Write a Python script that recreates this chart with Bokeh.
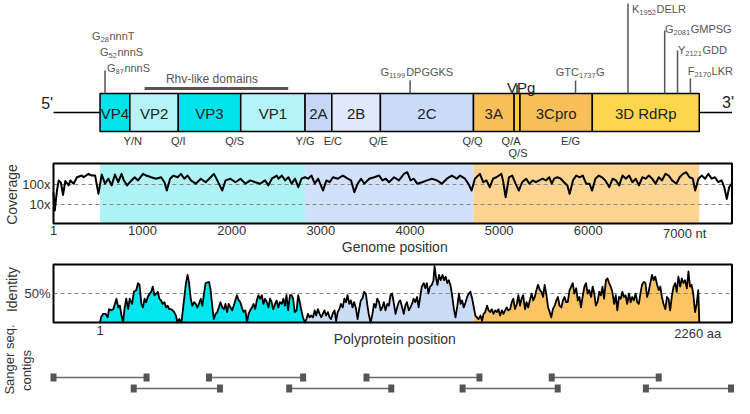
import math
from bokeh.plotting import figure
from bokeh.models import Range1d, LogScale
from bokeh.core.properties import value
from bokeh.embed import file_html
from bokeh.resources import INLINE

FONT = "Liberation Sans"

# ---------------- genome map (nt) ----------------
GENE_LABELS = ["VP4", "VP2", "VP3", "VP1", "2A", "2B", "2C", "3A", "", "3Cpro", "3D RdRp"]
GENE_START = [523, 857, 1401, 2101, 2823, 3123, 3668, 4712, 5168, 5234, 6045]
GENE_END = [857, 1401, 2101, 2823, 3123, 3668, 4712, 5168, 5234, 6045, 7245]
GENE_COLORS = ["#00e3ec", "#b2f4f8", "#00e3ec", "#b2f4f8", "#c5d6f7", "#e0e9fb",
               "#c9dbf8", "#fbbf5a", "#fbc93c", "#fbbf5a", "#fdd54f"]
GENOME_END = 7612

CLEAVE_LABELS = ["Y/N", "Q/I", "Q/S", "Y/G", "E/C", "Q/E", "Q/Q", "Q/A", "Q/S", "E/G"]
CLEAVE_NT = [890, 1401, 2034, 2823, 3134, 3646, 4701, 5134, 5212, 5801]
CLEAVE_ROW = [0, 0, 0, 0, 0, 0, 0, 0, 1, 0]

MOTIF_PRE = ["G", "G", "G", "G", "GTC", "K", "G", "Y", "F"]
MOTIF_SUB = ["28", "52", "87", "1199", "1737", "1952", "2081", "2121", "2170"]
MOTIF_POST = ["nnnT", "nnnS", "nnnS", "DPGGKS", "G", "DELR", "GMPSG", "GDD", "LKR"]
MOTIF_LABEL_NT = [434, 523, 601, 3668, 5634, 6490, 6860, 7005, 7115]
MOTIF_LABEL_Y = [35, 51, 67, 71, 71, 8, 28, 49, 70]
MOTIF_LINE_NT = [579, 4001, 5857, 6445, 6857, 7001, 7145]
MOTIF_LINE_TOP = [70, 80, 80, 3, 30, 50, 78]

RHV_NT = [1023, 2634]

# ---------------- coverage (reads, by nt) ----------------
COV_NT_A = [1, 15, 40, 60, 85, 108, 134, 171, 190, 227,
            264, 320, 338, 394, 431, 468, 505, 542, 579, 616,
            653, 690, 727, 764, 790, 827, 857, 912, 949, 1005,
            1042, 1097, 1153, 1208, 1246, 1272, 1309, 1346, 1394, 1431,
            1468, 1505, 1542, 1597, 1653, 1708, 1764, 1801, 1838, 1894,
            1931, 1986, 2042, 2098, 2153, 2209, 2264, 2320, 2375, 2412,
            2450, 2505]
COV_VAL_A = [40, 5, 50, 160, 120, 30, 150, 90, 160, 110,
             230, 280, 230, 340, 280, 280, 34, 315, 110, 195,
             90, 315, 130, 340, 160, 90, 130, 230, 160, 340,
             280, 230, 195, 230, 130, 50, 195, 280, 230, 340,
             195, 280, 160, 110, 195, 130, 230, 340, 160, 50,
             160, 195, 130, 195, 110, 160, 130, 110, 160, 90,
             195, 280]
COV_NT_B = [2525, 2562, 2599, 2636, 2673, 2710, 2747, 2784, 2821, 2858,
            2895, 2932, 2969, 3025, 3062, 3099, 3136, 3191, 3247, 3302,
            3339, 3376, 3413, 3451, 3488, 3543, 3599, 3654, 3691, 3728,
            3765, 3821, 3876, 3932, 3969, 4006, 4043, 4080, 4136, 4191,
            4247, 4302, 4358, 4414, 4469, 4525, 4562, 4617, 4654, 4691,
            4728, 4784, 4821, 4858, 4895, 4932, 4969, 5025]
COV_VAL_B = [195, 280, 160, 230, 110, 195, 73, 195, 230, 195,
             280, 110, 195, 50, 160, 130, 230, 195, 280, 195,
             160, 41, 110, 195, 110, 195, 230, 280, 160, 195,
             130, 230, 160, 340, 410, 160, 195, 110, 130, 160,
             195, 160, 110, 195, 280, 195, 280, 195, 110, 50,
             195, 340, 130, 160, 73, 195, 230, 340]
COV_NT_C = [5043, 5073, 5110, 5147, 5184, 5221, 5258, 5302, 5339, 5376,
            5413, 5450, 5488, 5525, 5562, 5591, 5617, 5654, 5691, 5728,
            5765, 5791, 5828, 5865, 5902, 5939, 5976, 6013, 6043, 6080,
            6117, 6154, 6191, 6236, 6273, 6310, 6347, 6384, 6421, 6458,
            6495, 6532, 6569, 6606, 6643, 6680, 6717, 6754, 6791, 6828,
            6865, 6902, 6940, 6988, 7025, 7062, 7099, 7136, 7173, 7199,
            7236, 7273, 7310, 7347, 7384, 7421, 7458, 7495, 7525, 7554,
            7580, 7606]
COV_VAL_C = [160, 23, 230, 280, 110, 50, 130, 195, 110, 160,
             130, 160, 195, 160, 230, 110, 195, 230, 195, 130,
             90, 34, 160, 280, 230, 280, 110, 110, 50, 195,
             280, 230, 160, 73, 195, 160, 90, 280, 195, 280,
             130, 195, 90, 230, 195, 280, 195, 110, 230, 160,
             340, 280, 160, 110, 230, 340, 410, 230, 195, 50,
             195, 280, 195, 340, 195, 230, 130, 160, 73, 19,
             73, 110]
COV_YLIM = [1.12, 1122]
COV_TICKS = [100, 10]
COV_TICK_LABELS = ["100x", "10x"]
NT_TICKS = [1, 1000, 2000, 3000, 4000, 5000, 6000]
NT_TICK_LABELS = ["1", "1000", "2000", "3000", "4000", "5000", "6000"]
BAND_START = [523, 2823, 4712]
BAND_END = [2823, 4712, 7245]
BAND_COLORS = ["#aef4f7", "#d2e1fb", "#fdd590"]

# ---------------- identity (%, by aa) ----------------
IDN_AA_P1 = [1, 5, 13, 22, 30, 35, 42, 51, 57, 63,
             70, 76, 82, 88, 94, 100, 107, 113, 122, 129,
             138, 144, 150, 157, 163, 169, 175, 181, 188, 194,
             200, 206, 213, 219, 225, 231, 237, 244, 250, 256,
             262, 269, 275, 281, 287, 293, 300, 308, 316, 325,
             331, 337, 343, 349, 356, 362, 368, 374, 381, 387,
             393, 399, 405, 412, 418, 424, 430, 437, 443, 449,
             455, 462, 468, 474, 480, 486, 493, 499, 505, 511,
             517, 524, 530, 536, 542, 549, 555, 561, 567, 574,
             580, 586, 592, 598, 605, 611, 617, 623, 630, 636,
             642, 648, 654, 661, 667, 673, 679, 686, 692, 698,
             704, 710, 717, 723, 729, 735, 742, 748, 754, 760,
             766, 773]
IDN_VAL_P1 = [0, 9, 15, 15, 9, 23, 21, 23, 32, 41,
              26, 29, 12, 0, 26, 41, 23, 41, 32, 53,
              56, 68, 65, 32, 26, 41, 35, 44, 50, 53,
              62, 47, 50, 53, 41, 38, 32, 35, 26, 29,
              23, 23, 21, 18, 12, 0, 6, 0, 32, 68,
              82, 68, 41, 29, 35, 32, 26, 32, 41, 29,
              50, 68, 69, 70, 56, 29, 6, 15, 18, 26,
              35, 26, 23, 32, 18, 32, 26, 21, 29, 38,
              47, 38, 35, 26, 18, 21, 0, 15, 21, 26,
              32, 23, 38, 47, 41, 47, 32, 41, 35, 26,
              41, 35, 23, 32, 38, 26, 35, 32, 41, 29,
              47, 21, 47, 47, 41, 18, 21, 47, 35, 21,
              9, 0]
IDN_AA_P2 = [773, 779, 785, 791, 797, 804, 810, 816, 822, 829,
             835, 841, 847, 853, 860, 866, 872, 878, 885, 891,
             897, 903, 909, 916, 922, 928, 934, 941, 947, 953,
             959, 965, 972, 978, 984, 990, 997, 1003, 1009, 1015,
             1021, 1028, 1034, 1040, 1046, 1053, 1059, 1065, 1071, 1077,
             1084, 1090, 1096, 1102, 1109, 1115, 1121, 1127, 1133, 1140,
             1146, 1152, 1158, 1165, 1171, 1177, 1183, 1189, 1196, 1202,
             1208, 1214, 1221, 1227, 1233, 1239, 1245, 1252, 1258, 1262,
             1268, 1273, 1279, 1285, 1292, 1298, 1304, 1310, 1316, 1323,
             1329, 1335, 1341, 1348, 1354, 1360, 1366, 1372, 1379, 1385,
             1391, 1397, 1404, 1410]
IDN_VAL_P2 = [0, 6, 15, 9, 12, 9, 21, 12, 23, 15,
              9, 15, 21, 12, 18, 9, 6, 15, 21, 3,
              18, 23, 32, 26, 41, 35, 47, 32, 38, 26,
              35, 26, 6, 23, 38, 41, 53, 50, 29, 12,
              0, 15, 32, 26, 41, 35, 21, 26, 35, 21,
              32, 29, 47, 50, 32, 15, 26, 35, 38, 26,
              15, 29, 35, 21, 26, 32, 41, 35, 44, 26,
              44, 62, 68, 59, 68, 50, 62, 65, 73, 97,
              76, 65, 82, 73, 82, 73, 79, 68, 73, 62,
              44, 23, 9, 29, 50, 32, 38, 26, 35, 44,
              50, 53, 41, 26]
IDN_AA_P3 = [1410, 1416, 1422, 1428, 1435, 1441, 1447, 1453, 1460, 1466,
             1472, 1478, 1484, 1491, 1497, 1503, 1509, 1516, 1522, 1528,
             1534, 1540, 1547, 1553, 1559, 1565, 1572, 1578, 1584, 1590,
             1596, 1603, 1609, 1615, 1621, 1628, 1634, 1640, 1646, 1652,
             1659, 1665, 1671, 1677, 1684, 1690, 1696, 1702, 1708, 1715,
             1721, 1727, 1733, 1740, 1746, 1752, 1758, 1764, 1771, 1777,
             1783, 1789, 1796, 1802, 1808, 1814, 1821, 1827, 1833, 1839,
             1845, 1852, 1858, 1864, 1870, 1876, 1883, 1889, 1895, 1901,
             1908, 1914, 1920, 1926, 1932, 1939, 1945, 1951, 1957, 1964,
             1970, 1976, 1982, 1988, 1995, 2001, 2007, 2013, 2020, 2026,
             2032, 2038, 2044, 2051, 2057, 2063, 2069, 2076, 2082, 2088,
             2094, 2101, 2107, 2113, 2119, 2125, 2132, 2138, 2144, 2150,
             2157, 2163, 2169, 2175, 2181, 2188, 2194, 2200, 2206, 2213,
             2219, 2225, 2231, 2237, 2244, 2250, 2256, 2260]
IDN_VAL_P3 = [26, 12, 9, 6, 12, 3, 15, 18, 29, 21,
              18, 23, 15, 21, 18, 23, 12, 21, 15, 21,
              26, 21, 23, 35, 41, 23, 32, 47, 29, 41,
              47, 23, 35, 26, 38, 50, 38, 44, 56, 65,
              56, 53, 44, 65, 47, 26, 18, 9, 23, 29,
              38, 44, 29, 26, 38, 44, 35, 35, 56, 62,
              68, 50, 59, 38, 44, 26, 47, 62, 68, 50,
              56, 44, 62, 50, 29, 35, 53, 47, 62, 41,
              73, 76, 68, 62, 53, 32, 47, 21, 44, 41,
              53, 44, 47, 32, 50, 35, 44, 38, 50, 35,
              32, 50, 65, 70, 68, 44, 53, 70, 82, 73,
              79, 65, 56, 62, 44, 32, 23, 44, 41, 21,
              47, 62, 68, 53, 79, 62, 76, 68, 73, 59,
              88, 62, 65, 50, 18, 32, 56, 0]
IDN_COLORS = ["#00e6ee", "#cbdcf8", "#fcc462"]
IDN_YLIM = [0, 100]
IDN_TICK = 50

# ---------------- Sanger contigs (nt) ----------------
CONTIG_R1_START = [1, 1745, 3512, 5590]
CONTIG_R1_END = [1045, 2801, 4779, 6790]
CONTIG_R2_START = [901, 2645, 4590, 6646]
CONTIG_R2_END = [1868, 3790, 5657, 7601]

# ---------------- layout constants (pixels from top-left) ----------------
BOX_TOP, BOX_BOT = 93, 131
MID = (BOX_TOP + BOX_BOT) / 2
ROW1_Y, ROW2_Y = 377, 388

p = figure(width=734, height=398, output_backend="svg", toolbar_location=None,
           x_range=Range1d(-593.5, 7640.1), y_range=Range1d(398, 0),
           x_axis_location=None, y_axis_location=None, min_border=0)
p.grid.visible = False
p.outline_line_color = None
p.background_fill_color = "white"
p.extra_x_ranges = {"aa": Range1d(-374.0, 2392.6)}
p.extra_y_ranges = {"cov": Range1d(10 ** -8.7, 10 ** 11.2),
                    "idn": Range1d(-131.0, 555.2)}
p.extra_y_scales = {"cov": LogScale()}

CHAR_W = {"G": .778, "n": .556, "T": .611, "S": .667, "D": .722, "P": .667, "K": .667,
          "E": .667, "L": .556, "R": .722, "M": .833, "Y": .667, "F": .611, "C": .722}


def tw(s, size):
    return sum(CHAR_W.get(c, .556) for c in s) * size


def txt(x, y, t, size="12px", color="#333333", align="center", baseline="middle", **kw):
    p.text(x=x, y=y, text=t, text_font=value(FONT), text_font_size=size,
           text_color=color, text_align=align, text_baseline=baseline, **kw)


# ---------------- genome map ----------------
p.segment(x0=[1, GENE_END[-1]], x1=[GENE_START[0], GENOME_END], y0=[MID, MID], y1=[MID, MID],
          line_color="black", line_width=1.5)
p.quad(left=GENE_START, right=GENE_END, top=BOX_TOP, bottom=BOX_BOT,
       fill_color=GENE_COLORS, line_color="black", line_width=1.5)
centers = [(a + b) / 2 for a, b in zip(GENE_START, GENE_END)]
txt(centers, [MID + 1] * len(centers), GENE_LABELS, size="15px", color="#222222")
txt([-70], [MID - 9], ["5'"], size="16px", color="#222222")
txt([GENOME_END], [MID - 10], ["3'"], size="16px", color="#222222", align="right", x_offset=2)
vpg_c = (GENE_START[8] + GENE_END[8]) / 2
txt([vpg_c + 45], [87], ["VPg"], size="15px", color="#222222")
p.segment(x0=[vpg_c], x1=[vpg_c], y0=[84], y1=[BOX_TOP], line_color="black", line_width=1.2)

cl_y = [140 + 12 * r for r in CLEAVE_ROW]
txt(CLEAVE_NT, cl_y, CLEAVE_LABELS, size="11px", color="#333333")

# motif lines + labels
p.segment(x0=MOTIF_LINE_NT, x1=MOTIF_LINE_NT, y0=MOTIF_LINE_TOP, y1=[BOX_TOP] * len(MOTIF_LINE_NT),
          line_color="#555555", line_width=1.5)
FS, SS = 11, 7.5
pre_off = [tw(s, FS) for s in MOTIF_PRE]
post_off = [tw(a, FS) + tw(b, SS) + 0.5 for a, b in zip(MOTIF_PRE, MOTIF_SUB)]
txt(MOTIF_LABEL_NT, MOTIF_LABEL_Y, MOTIF_PRE, size=f"{FS}px", color="#555555", align="left")
txt(MOTIF_LABEL_NT, MOTIF_LABEL_Y, MOTIF_SUB, size=f"{SS}px", color="#555555", align="left",
    x_offset=pre_off, y_offset=4)
txt(MOTIF_LABEL_NT, MOTIF_LABEL_Y, MOTIF_POST, size=f"{FS}px", color="#555555", align="left",
    x_offset=post_off)

p.segment(x0=[RHV_NT[0]], x1=[RHV_NT[1]], y0=[88], y1=[88], line_color="#555555", line_width=3)
txt([(RHV_NT[0] + RHV_NT[1]) / 2 - 50], [78], ["Rhv-like domains"], size="12px", color="#555555")

# ---------------- coverage panel ----------------
p.quad(left=BAND_START, right=BAND_END, bottom=COV_YLIM[0], top=COV_YLIM[1],
       fill_color=BAND_COLORS, line_color=None, y_range_name="cov")
p.segment(x0=[1, 1], x1=[GENOME_END, GENOME_END], y0=COV_TICKS, y1=COV_TICKS,
          line_color="#888888", line_width=1, line_dash="4 3", y_range_name="cov")
p.line(COV_NT_A + COV_NT_B + COV_NT_C, COV_VAL_A + COV_VAL_B + COV_VAL_C,
       line_color="black", line_width=2, line_join="round", y_range_name="cov")
p.quad(left=1, right=GENOME_END, bottom=COV_YLIM[0], top=COV_YLIM[1],
       fill_color=None, line_color="black", line_width=2, y_range_name="cov")
txt([1, 1], COV_TICKS, COV_TICK_LABELS, size="13px", color="#333333", align="right",
    x_offset=-3, y_range_name="cov")
txt(NT_TICKS, [COV_YLIM[0]] * len(NT_TICKS), NT_TICK_LABELS, size="13px", color="#333333",
    baseline="top", y_offset=2, y_range_name="cov")
txt([7000], [COV_YLIM[0]], ["7000 nt"], size="13px", color="#333333", align="left",
    baseline="top", x_offset=-14.5, y_offset=2, y_range_name="cov")
txt([3829], [246], ["Genome position"], size="14px", color="#333333")
txt([-469], [194], ["Coverage"], size="14px", color="#333333", angle=math.pi / 2)

# ---------------- identity panel ----------------
for xs, ys, col in [(IDN_AA_P1, IDN_VAL_P1, IDN_COLORS[0]),
                    (IDN_AA_P2, IDN_VAL_P2, IDN_COLORS[1]),
                    (IDN_AA_P3, IDN_VAL_P3, IDN_COLORS[2])]:
    p.varea(x=xs, y1=[0] * len(xs), y2=ys, fill_color=col, x_range_name="aa", y_range_name="idn")
p.segment(x0=[1], x1=[GENOME_END], y0=[IDN_TICK], y1=[IDN_TICK], line_color="#888888",
          line_width=1, line_dash="4 3", y_range_name="idn")
p.line(IDN_AA_P1 + IDN_AA_P2[1:] + IDN_AA_P3[1:], IDN_VAL_P1 + IDN_VAL_P2[1:] + IDN_VAL_P3[1:],
       line_color="black", line_width=1.8, line_join="round", x_range_name="aa", y_range_name="idn")
p.quad(left=1, right=GENOME_END, bottom=IDN_YLIM[0], top=IDN_YLIM[1], fill_color=None,
       line_color="black", line_width=2, y_range_name="idn")
txt([1], [IDN_TICK], ["50%"], size="13px", color="#333333", align="right", x_offset=-3,
    y_range_name="idn")
txt([1], [IDN_YLIM[0]], ["1"], size="13px", color="#333333", baseline="top", y_offset=3,
    x_range_name="aa", y_range_name="idn")
txt([2260], [IDN_YLIM[0]], ["2260 aa"], size="13px", color="#333333", align="left",
    baseline="top", x_offset=-25, y_offset=3, x_range_name="aa", y_range_name="idn")
txt([3829], [338], ["Polyprotein position"], size="14px", color="#333333")
txt([-469], [289], ["Identity"], size="14px", color="#333333", angle=math.pi / 2)

# ---------------- contigs ----------------
for st, en, yy in [(CONTIG_R1_START, CONTIG_R1_END, ROW1_Y), (CONTIG_R2_START, CONTIG_R2_END, ROW2_Y)]:
    p.segment(x0=st, x1=en, y0=[yy] * len(st), y1=[yy] * len(st), line_color="#6a6a6a", line_width=1.5)
    p.rect(x=st + en, y=[yy] * (2 * len(st)), width=6, height=8, width_units="screen",
           height_units="screen", fill_color="#555555", line_color=None)
txt([-495], [359], ["Sanger seq."], size="13px", color="#333333", angle=math.pi / 2)
txt([-301], [370], ["contigs"], size="13px", color="#333333", angle=math.pi / 2)

open("out.html", "w").write(file_html(p, INLINE))
